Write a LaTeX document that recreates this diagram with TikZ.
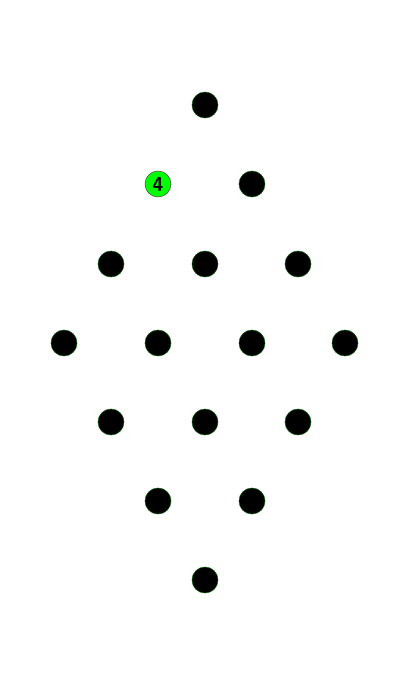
\documentclass[tikz,border=0pt]{standalone}
\usepackage{tikz}
\definecolor{dotgreen}{HTML}{00FF00}
\definecolor{rimgreen}{HTML}{0A5A0A}

\begin{document}
\begin{tikzpicture}[x=0.025cm, y=-0.025cm,
  dot/.style={circle, fill=black, draw=rimgreen, line width=0.4pt, minimum size=0.65cm, inner sep=0pt},
  hidot/.style={dot, fill=dotgreen, draw=black!70, font=\sffamily\bfseries\Large}]

\useasboundingbox (0,0) rectangle (400,680);

% Top
\node[dot] (r1a) at (205,105) {};

% Second row
\node[hidot] (r2a) at (158,184) {4};
\node[dot] (r2b) at (252,184) {};

% Third row
\node[dot] (r3a) at (111,264) {};
\node[dot] (r3b) at (205,264) {};
\node[dot] (r3c) at (298,264) {};

% Middle row
\node[dot] (r4a) at (64,343) {};
\node[dot] (r4b) at (158,343) {};
\node[dot] (r4c) at (252,343) {};
\node[dot] (r4d) at (345,343) {};

% Fifth row
\node[dot] (r5a) at (111,422) {};
\node[dot] (r5b) at (205,422) {};
\node[dot] (r5c) at (298,422) {};

% Sixth row
\node[dot] (r6a) at (158,501) {};
\node[dot] (r6b) at (252,501) {};

% Bottom
\node[dot] (r7a) at (205,580) {};

\end{tikzpicture}
\end{document}
